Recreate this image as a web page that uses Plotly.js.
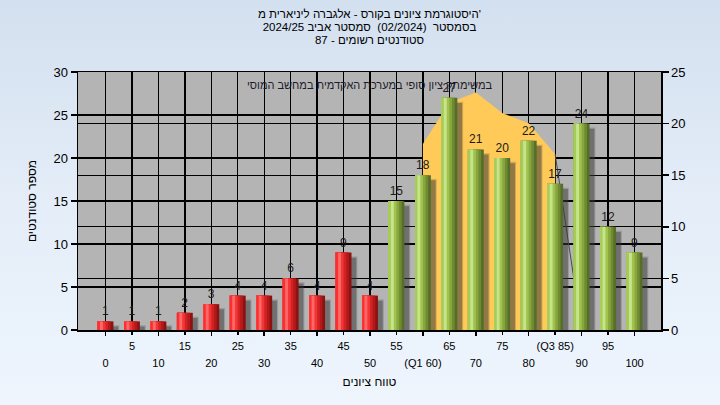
<!DOCTYPE html>
<html>
<head>
<meta charset="utf-8">
<script src="https://cdn.plot.ly/plotly-3.0.1.min.js"></script>
<style>
  html, body { margin:0; padding:0; }
  body { width:720px; height:405px; background: linear-gradient(to bottom, #d3e0ef 0%, #e4edf8 50%, #eef5fd 100%); }
  #chart { width:720px; height:405px; }
</style>
</head>
<body>
<div id="chart"></div>
<script>
// ---- data ----
const scoreBins = [0, 5, 10, 15, 20, 25, 30, 35, 40, 45, 50, 55, 60, 65, 70, 75, 80, 85, 90, 95, 100];
const studentCounts = [1, 1, 1, 2, 3, 4, 4, 6, 4, 9, 4, 15, 18, 27, 21, 20, 22, 17, 24, 12, 9];
const passScore = 55;

const iqrX = [60, 65, 70, 75, 80, 85];
const iqrY = [18, 22, 23, 21, 20, 17];
const tailX = [85, 90];
const tailY = [17, 0];

const lowerTickVals = [0, 10, 20, 30, 40, 50, 60, 70, 80, 90, 100];
const lowerTickText = ['0', '10', '20', '30', '40', '50', '(Q1 60)', '70', '80', '90', '100'];
const upperTickVals = [5, 15, 25, 35, 45, 55, 65, 75, 85, 95];
const upperTickText = ['5', '15', '25', '35', '45', '55', '65', '75', '(Q3 85)', '95'];

const titleLines = ["היסטוגרמת ציונים בקורס - אלגברה ליניארית מ'", "בסמסטר  (02/2024)  סמסטר אביב 2024/25", "סטודנטים רשומים - 87"];
const noteText = 'במשימתק ציון סופי במערכת האקדמית במחשב המוסי';
const xTitle = 'טווח ציונים';
const yTitle = 'מספר סטודנטים';

// ---- styling ----
const FONT = 'Liberation Sans, Arial, sans-serif';
const redLayers = ['#8c1212', '#b01a1a', '#d42222', '#f03636', '#ff6868', '#ff2e2e'];
const greenLayers = ['#566e28', '#6e8a32', '#88a63e', '#a2c24e', '#c6e48c', '#a6cc56'];
const layerWidths = [3.0, 2.5, 2.0, 1.5, 1.0, 0.45];
const BW = 3.0;

const traces = [];

// interquartile area (right axis)
traces.push({
  type: 'scatter', x: iqrX, y: iqrY, xaxis: 'x', yaxis: 'y',
  mode: 'lines', fill: 'tozeroy', fillcolor: '#ffca58',
  line: { color: '#ffca58', width: 0.5 }, hoverinfo: 'skip'
});
traces.push({
  type: 'scatter', x: tailX, y: tailY, xaxis: 'x', yaxis: 'y',
  mode: 'lines', line: { color: '#4a4a4a', width: 1 }, hoverinfo: 'skip'
});
// dummy on upper label axis
traces.push({
  type: 'scatter', x: [scoreBins[0]], y: [0], xaxis: 'x2', yaxis: 'y',
  mode: 'markers', marker: { opacity: 0 }, hoverinfo: 'skip'
});

// shadows
traces.push({
  type: 'bar', x: scoreBins, y: studentCounts.map(v => Math.max(v - 0.45, 0)),
  xaxis: 'x', yaxis: 'y2', width: BW + 0.4, offset: -BW / 2 + 0.7,
  marker: { color: 'rgba(70,70,70,0.25)', line: { width: 0 } }, hoverinfo: 'skip'
});
traces.push({
  type: 'bar', x: scoreBins, y: studentCounts.map(v => Math.max(v - 0.6, 0)),
  xaxis: 'x', yaxis: 'y2', width: BW, offset: -BW / 2 + 0.9,
  marker: { color: 'rgba(50,50,50,0.4)', line: { width: 0 } }, hoverinfo: 'skip'
});

// cylinder-like bars
layerWidths.forEach((w, i) => {
  const t = {
    type: 'bar', x: scoreBins, y: studentCounts, xaxis: 'x', yaxis: 'y2',
    width: w, offset: -BW / 2,
    marker: { color: scoreBins.map(s => s >= passScore ? greenLayers[i] : redLayers[i]), line: { width: 0 } },
    hoverinfo: 'skip'
  };
  if (i === 0) {
    t.text = studentCounts.map(String);
    t.textposition = 'outside';
    t.cliponaxis = false;
    t.textfont = { family: FONT, size: 12, color: '#1a1a1a' };
  }
  traces.push(t);
});

const grid = '#000000';
const layout = {
  width: 720, height: 405,
  margin: { l: 78, r: 59, t: 72, b: 75, pad: 0 },
  paper_bgcolor: 'rgba(0,0,0,0)',
  plot_bgcolor: '#b4b4b4',
  showlegend: false,
  barmode: 'overlay',
  font: { family: FONT, size: 12, color: '#000' },
  title: {
    text: titleLines.map(s => '<span style="font-size:11.5px">' + s + '</span>').join('<br>'),
    xref: 'paper', x: 0.5, xanchor: 'center',
    yref: 'container', y: 0.955, yanchor: 'top',
    font: { family: FONT, size: 10, color: '#000' }
  },
  xaxis: {
    range: [-5.2, 105], tickmode: 'array', tickvals: lowerTickVals, ticktext: lowerTickText,
    showgrid: true, gridcolor: grid, gridwidth: 1.3, zeroline: false,
    showline: true, linecolor: '#000', linewidth: 1.5, mirror: true,
    ticks: 'outside', ticklen: 4, tickcolor: '#000', tickwidth: 1.5,
    ticklabelstandoff: 18,
    tickfont: { family: FONT, size: 11, color: '#000' },
    title: { text: xTitle, standoff: 10, font: { family: FONT, size: 12, color: '#000' } }
  },
  xaxis2: {
    overlaying: 'x', anchor: 'y', side: 'bottom',
    range: [-5.2, 105], tickmode: 'array', tickvals: upperTickVals, ticktext: upperTickText,
    showgrid: true, gridcolor: grid, gridwidth: 1.3, zeroline: false, showline: false,
    ticks: 'outside', ticklen: 4, tickcolor: '#000', tickwidth: 1.5,
    ticklabelstandoff: 2,
    tickfont: { family: FONT, size: 11, color: '#000' }
  },
  yaxis: {
    side: 'right', range: [0, 25], dtick: 5, tick0: 0,
    showgrid: true, gridcolor: grid, gridwidth: 1.3, zeroline: false,
    showline: true, linecolor: '#000', linewidth: 1.5,
    ticks: 'outside', ticklen: 6, tickcolor: '#000', tickwidth: 1.5,
    tickfont: { family: FONT, size: 13, color: '#000' }
  },
  yaxis2: {
    overlaying: 'y', side: 'left', anchor: 'x', range: [0, 30], dtick: 5, tick0: 0,
    showgrid: true, gridcolor: grid, gridwidth: 1.3, zeroline: false,
    showline: true, linecolor: '#000', linewidth: 1.5,
    ticks: 'outside', ticklen: 6, tickcolor: '#000', tickwidth: 1.5,
    tickfont: { family: FONT, size: 13, color: '#000' },
    title: { text: yTitle, standoff: 14, font: { family: FONT, size: 12, color: '#000' } }
  },
  annotations: [{
    text: noteText, xref: 'paper', yref: 'paper', x: 0.5, y: 0.95,
    xanchor: 'center', yanchor: 'middle', showarrow: false,
    font: { family: FONT, size: 11, color: '#1c1c2c' }
  }]
};

Plotly.newPlot('chart', traces, layout, { staticPlot: true, displayModeBar: false });
</script>
</body>
</html>
